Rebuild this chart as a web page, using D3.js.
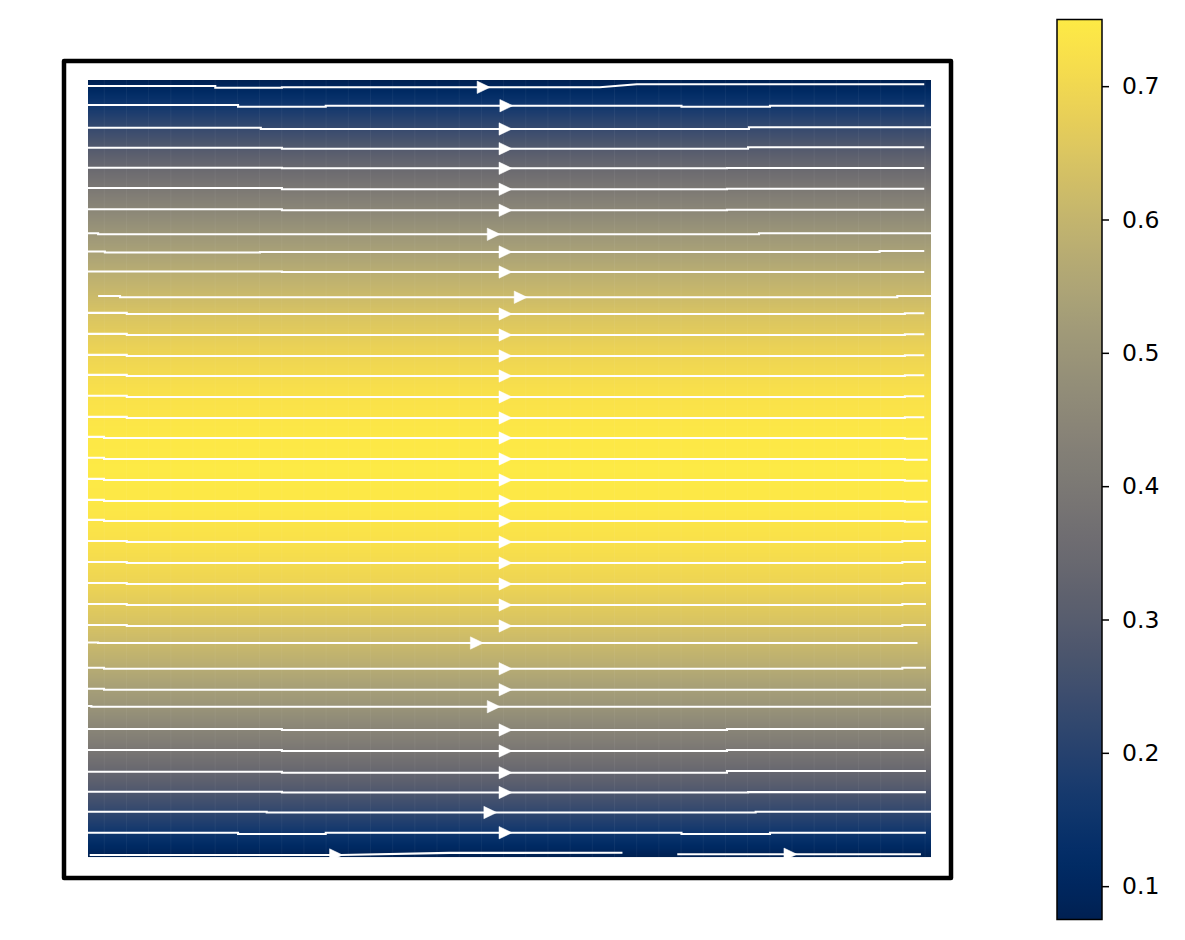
<!DOCTYPE html>
<html>
<head>
<meta charset="utf-8">
<script src="https://cdn.jsdelivr.net/npm/d3@7"></script>
<style>
  html, body { margin: 0; padding: 0; background: #fff; }
  svg { display: block; }
</style>
</head>
<body>
<svg id="chart" width="1185" height="940"></svg>
<script>
// ---------------- data ----------------
// Velocity magnitude profile across the channel (y from -1 to 1)
const profileY = [-1, -0.9, -0.8, -0.7, -0.6, -0.5, -0.4, -0.3, -0.2, -0.1, 0,
                   0.1, 0.2, 0.3, 0.4, 0.5, 0.6, 0.7, 0.8, 0.9, 1];
const profileU = [0.075, 0.203, 0.318, 0.419, 0.507, 0.581, 0.642, 0.689, 0.723, 0.743, 0.75,
                  0.743, 0.723, 0.689, 0.642, 0.581, 0.507, 0.419, 0.318, 0.203, 0.075];
const colorMin = 0.075, colorMax = 0.75;
const cbarTicks = [0.1, 0.2, 0.3, 0.4, 0.5, 0.6, 0.7];

// Streamlines: [x, y] vertices (x in 0..100, y in -1..1)
const streamlines = [
  [[0,0.9846],[15.1,0.9846],[15.1,0.9802],[23.0,0.9802],[23.0,0.9812],[60.7,0.9812],[65.1,0.9889],[99.2,0.9889]],
  [[0,0.9356],[17.8,0.9356],[17.8,0.9313],[28.2,0.9313],[28.2,0.9338],[70.4,0.9338],[70.4,0.9313],[80.9,0.9313],[80.9,0.9338],[99.2,0.9338]],
  [[0,0.8771],[20.5,0.8771],[20.5,0.8739],[78.4,0.8739],[78.4,0.8782],[100,0.8782]],
  [[0,0.8257],[23.0,0.8257],[23.0,0.8232],[78.3,0.8232],[78.3,0.8268],[99.2,0.8268]],
  [[0,0.7743],[23.0,0.7743],[23.0,0.7727],[75.8,0.7727],[75.8,0.7735],[99.2,0.7735]],
  [[0,0.7220],[23.0,0.7220],[23.0,0.7187],[75.8,0.7187],[75.8,0.7202],[99.2,0.7202]],
  [[0,0.6672],[23.0,0.6672],[23.0,0.6646],[75.8,0.6646],[75.8,0.6662],[99.2,0.6662]],
  [[0,0.6054],[1.2,0.6054],[1.2,0.6028],[79.6,0.6028],[79.6,0.6054],[100,0.6054]],
  [[0,0.5585],[2.0,0.5585],[2.0,0.5560],[20.4,0.5560],[20.4,0.5573],[93.9,0.5573],[93.9,0.5598],[99.2,0.5598]],
  [[0,0.5070],[23.0,0.5070],[23.0,0.5058],[99.2,0.5058]],
  [[1.2,0.4440],[3.8,0.4440],[3.8,0.4407],[96.0,0.4407],[96.0,0.4440],[100,0.4440]],
  [[0,0.4007],[4.6,0.4007],[4.6,0.3977],[96.9,0.3977],[96.9,0.3997],[99.2,0.3997]],
  [[0,0.3466],[4.6,0.3466],[4.6,0.3436],[96.9,0.3436],[96.9,0.3456],[99.2,0.3456]],
  [[0,0.2926],[4.6,0.2926],[4.6,0.2896],[96.9,0.2896],[96.9,0.2916],[99.2,0.2916]],
  [[0,0.2411],[4.6,0.2411],[4.6,0.2381],[96.9,0.2381],[96.9,0.2401],[99.2,0.2401]],
  [[0,0.1871],[4.6,0.1871],[4.6,0.1841],[96.9,0.1841],[96.9,0.1861],[99.2,0.1861]],
  [[0,0.1330],[4.6,0.1330],[4.6,0.1300],[96.9,0.1300],[96.9,0.1320],[99.2,0.1320]],
  [[0,0.0815],[1.9,0.0815],[1.9,0.0785],[96.9,0.0785],[96.9,0.0765],[99.6,0.0765]],
  [[0,0.0275],[1.9,0.0275],[1.9,0.0245],[96.9,0.0245],[96.9,0.0225],[99.6,0.0225]],
  [[0,-0.0266],[1.9,-0.0266],[1.9,-0.0296],[96.9,-0.0296],[96.9,-0.0316],[99.6,-0.0316]],
  [[0,-0.0807],[1.9,-0.0807],[1.9,-0.0837],[96.9,-0.0837],[96.9,-0.0857],[99.6,-0.0857]],
  [[0,-0.1322],[1.9,-0.1322],[1.9,-0.1352],[96.9,-0.1352],[96.9,-0.1372],[99.6,-0.1372]],
  [[0,-0.1866],[4.6,-0.1866],[4.6,-0.1892],[96.6,-0.1892],[96.6,-0.1866],[99.4,-0.1866]],
  [[0,-0.2406],[4.6,-0.2406],[4.6,-0.2432],[96.6,-0.2432],[96.6,-0.2406],[99.4,-0.2406]],
  [[0,-0.2947],[4.6,-0.2947],[4.6,-0.2973],[96.6,-0.2973],[96.6,-0.2947],[99.4,-0.2947]],
  [[0,-0.3488],[4.6,-0.3488],[4.6,-0.3514],[96.6,-0.3514],[96.6,-0.3488],[99.4,-0.3488]],
  [[0,-0.4028],[4.6,-0.4028],[4.6,-0.4054],[96.6,-0.4054],[96.6,-0.4028],[99.4,-0.4028]],
  [[0,-0.4480],[1.2,-0.4480],[1.2,-0.4492],[98.4,-0.4492]],
  [[0,-0.5130],[1.9,-0.5130],[1.9,-0.5156],[96.6,-0.5156],[96.6,-0.5130],[99.4,-0.5130]],
  [[0,-0.5668],[1.9,-0.5668],[1.9,-0.5694],[99.4,-0.5694]],
  [[0,-0.6113],[0.4,-0.6113],[0.4,-0.6131],[100,-0.6131]],
  [[0,-0.6705],[23.0,-0.6705],[23.0,-0.6731],[75.8,-0.6731],[75.8,-0.6705],[99.2,-0.6705]],
  [[0,-0.7246],[23.0,-0.7246],[23.0,-0.7272],[75.8,-0.7272],[75.8,-0.7246],[99.2,-0.7246]],
  [[0,-0.7804],[23.0,-0.7804],[23.0,-0.7830],[75.8,-0.7830],[75.8,-0.7786],[99.4,-0.7786]],
  [[0,-0.8319],[23.0,-0.8319],[23.0,-0.8340],[78.3,-0.8340],[78.3,-0.8330],[99.4,-0.8330]],
  [[0,-0.8834],[21.2,-0.8834],[21.2,-0.8855],[79.2,-0.8855],[79.2,-0.8834],[100,-0.8834]],
  [[0,-0.9375],[17.8,-0.9375],[17.8,-0.9408],[28.2,-0.9408],[28.2,-0.9375],[70.4,-0.9375],[70.4,-0.9408],[80.9,-0.9408],[80.9,-0.9375],[99.4,-0.9375]],
  [[0.2,-0.9949],[30.0,-0.9949],[42.9,-0.9895],[63.4,-0.9889]],
  [[69.9,-0.9930],[98.8,-0.9930]]
];
// x position of each streamline's arrow tip
const arrowTipX = [47.7, 50.4, 50.3, 50.3, 50.3, 50.3, 50.3, 48.9, 50.3, 50.3, 52.1,
                   50.3, 50.3, 50.3, 50.3, 50.3, 50.3, 50.3, 50.3, 50.3, 50.3, 50.3,
                   50.3, 50.3, 50.3, 50.3, 50.3, 46.9, 50.3, 50.3, 48.9, 50.3, 50.3,
                   50.3, 50.3, 48.5, 50.3, 30.2, 84.1];

// ---------------- layout ----------------
const svg = d3.select("#chart");
const plot = { left: 88, right: 931, top: 80, bottom: 857 };
const x = d3.scaleLinear().domain([0, 100]).range([plot.left, plot.right]);
const y = d3.scaleLinear().domain([-1, 1]).range([plot.bottom, plot.top]);
const color = d3.scaleSequential(d3.interpolateCividis).domain([colorMin, colorMax]);
const profile = d3.scaleLinear().domain(profileY).range(profileU);

// background (speed field)
const bg = svg.append("g");
const rows = d3.range(plot.top, plot.bottom, 1);
bg.selectAll("rect").data(rows).join("rect")
  .attr("x", plot.left).attr("width", plot.right - plot.left)
  .attr("y", d => d).attr("height", 1.05)
  .attr("fill", d => color(profile(y.invert(d + 0.5))));

// faint cell seams
const seams = d3.range(1.93, 100, 100 / 38);
bg.selectAll("line").data(seams).join("line")
  .attr("x1", d => x(d)).attr("x2", d => x(d))
  .attr("y1", plot.top).attr("y2", plot.bottom)
  .attr("stroke", "#fff").attr("stroke-opacity", 0.05).attr("stroke-width", 1);

// streamlines
const line = d3.line().x(d => x(d[0])).y(d => y(d[1]));
const sg = svg.append("g");
sg.selectAll("path.sl").data(streamlines).join("path")
  .attr("class", "sl")
  .attr("d", line)
  .attr("fill", "none").attr("stroke", "#fff").attr("stroke-width", 2.1);

function yAt(pts, xv) {
  for (let i = pts.length - 1; i > 0; i--) {
    const a = pts[i - 1], b = pts[i];
    if (xv >= a[0] && xv <= b[0] && b[0] > a[0]) {
      return a[1] + (b[1] - a[1]) * (xv - a[0]) / (b[0] - a[0]);
    }
  }
  return pts[0][1];
}
sg.selectAll("path.arrow").data(streamlines).join("path")
  .attr("class", "arrow")
  .attr("d", (pts, i) => {
    const tx = x(arrowTipX[i]);
    const ty = y(yAt(pts, arrowTipX[i]));
    const L = 13, W = 6.2;
    return `M${tx},${ty}L${tx - L},${ty - W}L${tx - L},${ty + W}Z`;
  })
  .attr("fill", "#fff").attr("stroke", "#fff").attr("stroke-width", 0.5);

// axes frame
svg.append("rect")
  .attr("x", 64).attr("y", 61).attr("width", 951 - 64).attr("height", 878 - 61)
  .attr("fill", "none").attr("stroke", "#000").attr("stroke-width", 4.5)
  .attr("stroke-linejoin", "round");

// ---------------- colorbar ----------------
const cb = { left: 1057, right: 1102, top: 19.5, bottom: 919.5 };
const cy = d3.scaleLinear().domain([colorMin, colorMax]).range([cb.bottom, cb.top]);
const defs = svg.append("defs");
const grad = defs.append("linearGradient").attr("id", "cbgrad")
  .attr("x1", 0).attr("y1", 1).attr("x2", 0).attr("y2", 0);
grad.selectAll("stop").data(d3.range(0, 1.0001, 0.02)).join("stop")
  .attr("offset", d => d)
  .attr("stop-color", d => d3.interpolateCividis(d));
svg.append("rect")
  .attr("x", cb.left).attr("y", cb.top)
  .attr("width", cb.right - cb.left).attr("height", cb.bottom - cb.top)
  .attr("fill", "url(#cbgrad)")
  .attr("stroke", "#000").attr("stroke-width", 1.5);

const cbAxis = d3.axisRight(cy).tickValues(cbarTicks).tickFormat(d3.format(".1f"))
  .tickSize(7).tickPadding(13);
const ag = svg.append("g").attr("transform", `translate(${cb.right},0)`).call(cbAxis);
ag.select(".domain").remove();
ag.selectAll(".tick line").attr("stroke", "#000").attr("stroke-width", 1.5);
ag.selectAll(".tick text")
  .attr("font-family", "DejaVu Sans, sans-serif")
  .attr("font-size", 23.5).attr("fill", "#000");
</script>
</body>
</html>
